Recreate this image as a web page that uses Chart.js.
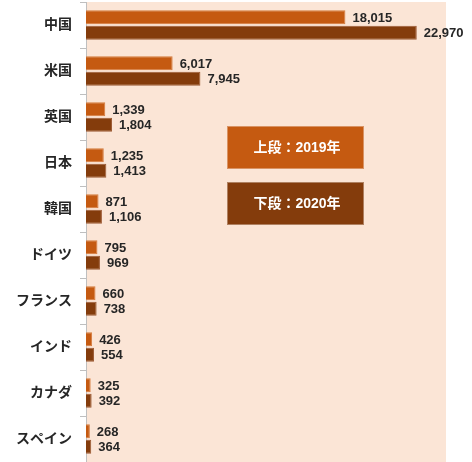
<!DOCTYPE html>
<html>
<head>
<meta charset="utf-8">
<script src="https://cdn.jsdelivr.net/npm/chart.js@4"></script>
<style>
  body { margin: 0; background: #fff; }
  #wrap { width: 472px; height: 462px; }
</style>
</head>
<body>
<div id="wrap"><canvas id="visitors" width="472" height="462"></canvas></div>
<script>
var countries = ['中国', '米国', '英国', '日本', '韓国', 'ドイツ', 'フランス', 'インド', 'カナダ', 'スペイン'];
var values2019 = [18015, 6017, 1339, 1235, 871, 795, 660, 426, 325, 268];
var values2020 = [22970, 7945, 1804, 1413, 1106, 969, 738, 554, 392, 364];
var legendTexts = ['上段：2019年', '下段：2020年'];

var color2019 = '#C55A11';
var color2020 = '#843C0C';
var fontFamily = "'Liberation Sans', 'Noto Sans CJK JP', sans-serif";

// peach fill behind the plot
var plotBackground = {
    id: 'plotBackground',
    beforeDraw: function(chart) {
        var a = chart.chartArea;
        var ctx = chart.ctx;
        ctx.save();
        ctx.fillStyle = '#FBE5D6';
        ctx.fillRect(a.left, a.top, a.right - a.left, a.bottom - a.top);
        ctx.restore();
    }
};

// numbers at the end of each bar
var valueLabels = {
    id: 'valueLabels',
    afterDatasetsDraw: function(chart) {
        var ctx = chart.ctx;
        ctx.save();
        ctx.font = 'bold 13px ' + fontFamily;
        ctx.fillStyle = '#262626';
        ctx.textBaseline = 'middle';
        ctx.textAlign = 'left';
        chart.data.datasets.forEach(function(ds, i) {
            chart.getDatasetMeta(i).data.forEach(function(bar, j) {
                ctx.fillText(ds.data[j].toLocaleString('en-US'), bar.x + 7, bar.y + 1);
            });
        });
        ctx.restore();
    }
};

// the two boxes explaining which row is which year
var yearBoxes = {
    id: 'yearBoxes',
    afterDraw: function(chart) {
        var ctx = chart.ctx;
        var colors = [color2019, color2020];
        var tops = [126, 182];
        ctx.save();
        ctx.font = 'bold 14px ' + fontFamily;
        ctx.textAlign = 'center';
        ctx.textBaseline = 'middle';
        for (var i = 0; i < 2; i++) {
            ctx.fillStyle = colors[i];
            ctx.fillRect(227, tops[i], 137, 43);
            ctx.strokeStyle = 'rgba(255,255,255,0.35)';
            ctx.lineWidth = 1;
            ctx.strokeRect(227.5, tops[i] + 0.5, 136, 42);
            ctx.fillStyle = '#fff';
            ctx.fillText(legendTexts[i], 297, tops[i] + 22);
        }
        ctx.restore();
    }
};

var ctx = document.getElementById('visitors').getContext('2d');
var myChart = new Chart(ctx, {
    type: 'bar',
    data: {
        labels: countries,
        datasets: [{
            label: '2019年',
            data: values2019,
            backgroundColor: color2019,
            borderColor: '#D57A3C',
            borderWidth: 1,
            categoryPercentage: 0.67,
            barPercentage: 0.9
        }, {
            label: '2020年',
            data: values2020,
            backgroundColor: color2020,
            borderColor: '#9C5A34',
            borderWidth: 1,
            categoryPercentage: 0.67,
            barPercentage: 0.9
        }]
    },
    options: {
        indexAxis: 'y',
        responsive: false,
        animation: false,
        layout: {
            padding: { top: 2, right: 26, bottom: 0, left: 0 }
        },
        plugins: {
            legend: { display: false },
            tooltip: { enabled: false }
        },
        scales: {
            x: {
                display: false,
                min: 0,
                max: 25000
            },
            y: {
                afterFit: function(scale) {
                    scale.width = 86;
                    // let the plot run to the top and bottom edges
                    scale.paddingTop = 0;
                    scale.paddingBottom = 0;
                },
                border: { display: true, color: '#BFBFBF', width: 1 },
                grid: {
                    drawOnChartArea: false,
                    tickLength: 6,
                    color: '#BFBFBF'
                },
                ticks: {
                    color: '#262626',
                    padding: 8,
                    font: { family: fontFamily, size: 14, weight: 'bold' }
                }
            }
        }
    },
    plugins: [plotBackground, valueLabels, yearBoxes]
});
</script>
</body>
</html>
